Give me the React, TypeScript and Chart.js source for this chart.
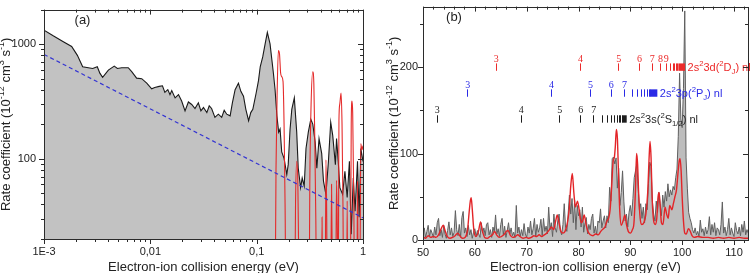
import React, { useEffect, useRef } from "react";
import { Chart, registerables } from "chart.js";

Chart.register(...registerables);

const SANS = '"Liberation Sans", Arial, Helvetica, sans-serif';
const SERIF = '"Liberation Serif", "Times New Roman", serif';

// ---------- Panel (a): low-energy rate coefficient, log-log ----------
// measured rate coefficient [energy eV, rate 1e-12 cm^3 s^-1]
const measuredA: [number, number][] = [
  [0.001, 1324], [0.00122, 1183], [0.00152, 1051], [0.00182, 953], [0.00206, 798],
  [0.00231, 635], [0.00261, 623], [0.00287, 614], [0.00317, 635], [0.00336, 556],
  [0.00356, 514], [0.00403, 594], [0.00458, 643], [0.0049, 614], [0.00538, 623],
  [0.0062, 623], [0.00668, 575], [0.00743, 505], [0.0083, 500], [0.00925, 457],
  [0.0103, 408], [0.011, 418], [0.0121, 428], [0.013, 433], [0.0137, 380],
  [0.0146, 401], [0.0153, 363], [0.0159, 394], [0.0171, 340], [0.0184, 363],
  [0.0197, 319], [0.0212, 262], [0.0228, 313], [0.0245, 298], [0.0263, 274],
  [0.0283, 308], [0.0299, 262], [0.0316, 280], [0.034, 253], [0.0358, 290],
  [0.0377, 275], [0.0405, 230], [0.0436, 245], [0.0469, 230], [0.0495, 265],
  [0.0523, 245], [0.0563, 237], [0.0591, 308], [0.0627, 401], [0.0674, 457],
  [0.071, 388], [0.0752, 352], [0.0791, 270], [0.084, 215], [0.088, 253],
  [0.092, 270], [0.0989, 375], [0.104, 480], [0.108, 635], [0.114, 773],
  [0.12, 1000], [0.126, 1265], [0.1336, 1004], [0.1436, 560], [0.149, 400],
  [0.155, 237], [0.161, 171], [0.166, 182], [0.172, 115], [0.181, 101],
  [0.192, 73], [0.198, 89], [0.206, 180], [0.214, 270], [0.226, 340],
  [0.238, 171], [0.246, 83], [0.259, 56], [0.268, 68], [0.28, 58],
  [0.291, 123], [0.306, 171], [0.323, 222], [0.337, 201], [0.355, 140],
  [0.368, 83], [0.386, 150], [0.409, 111], [0.425, 64], [0.448, 49],
  [0.473, 95], [0.497, 208], [0.519, 160], [0.55, 89], [0.564, 150],
  [0.585, 95], [0.606, 56], [0.643, 49], [0.676, 78], [0.71, 46],
  [0.745, 95], [0.775, 22], [0.81, 68], [0.842, 35], [0.888, 95],
  [0.92, 31], [0.954, 123], [1.0, 95],
];

// calculated resonances above 0.14 eV
const theoryA: [number, number][] = [
  [0.14, 1], [0.149, 5], [0.152, 80], [0.156, 400], [0.16, 880], [0.164, 820],
  [0.168, 560], [0.172, 521], [0.177, 472], [0.181, 200], [0.185, 40], [0.189, 5],
  [0.228, 5], [0.232, 40], [0.238, 95], [0.244, 60], [0.249, 12], [0.253, 3],
  [0.31, 3], [0.316, 60], [0.325, 300], [0.337, 575], [0.345, 450], [0.352, 150],
  [0.36, 30], [0.368, 3], [0.405, 3], [0.412, 31], [0.418, 5], [0.44, 3],
  [0.448, 98], [0.456, 30], [0.462, 3], [0.495, 3], [0.506, 60], [0.515, 10],
  [0.552, 5], [0.564, 65], [0.575, 20], [0.584, 5], [0.594, 215], [0.605, 300],
  [0.622, 375], [0.635, 200], [0.648, 40], [0.661, 3], [0.7, 3], [0.71, 43],
  [0.72, 3], [0.76, 5], [0.775, 200], [0.788, 319], [0.8, 250], [0.82, 40],
  [0.835, 3], [0.875, 5], [0.888, 64], [0.9, 10], [0.935, 10], [0.954, 136],
  [0.975, 120], [1.0, 130],
];

// radiative recombination estimate
const radiativeA: [number, number][] = [
  [0.001, 813], [1.0, 30.6],
];

const xTickLabelsA = ["1E-3", "0,01", "0,1", "1"]; // decades 1e-3 .. 1
const yTickLabelsA = ["100", "1000"]; // decades 1e2 .. 1e3

// ---------- Panel (b): rate coefficient 50 - 113 eV ----------
const measuredB_start = 50;
const measuredB_step = 0.25;
const measuredB: number[] = [
  6, 14, 3, 10, 17, 4, 12, 8, 3, 15, 6, 20, 25, 5, 12, 3,
  17, 7, 2, 11, 21, 6, 14, 4, 9, 34, 12, 5, 18, 3, 26, 33,
  8, 14, 4, 17, 6, 12, 2, 9, 13, 4, 11, 7, 3, 20, 8, 14,
  5, 18, 20, 6, 12, 3, 15, 9, 29, 7, 13, 4, 18, 25, 6, 16,
  3, 11, 20, 7, 14, 5, 9, 3, 40, 8, 15, 4, 12, 5, 19, 7,
  3, 15, 8, 22, 6, 13, 25, 4, 18, 9, 14, 24, 5, 25, 10, 16,
  7, 38, 12, 20, 4, 30, 14, 9, 22, 30, 11, 6, 18, 42, 15, 10,
  30, 52, 30, 48, 20, 46, 12, 40, 28, 35, 15, 38, 9, 20, 26, 7,
  18, 12, 25, 30, 8, 16, 6, 22, 20, 36, 14, 22, 28, 14, 28, 20,
  61, 45, 94, 96, 88, 95, 60, 83, 40, 55, 80, 45, 22, 30, 15, 32,
  40, 28, 48, 72, 80, 88, 62, 35, 42, 25, 38, 20, 42, 35, 65, 90,
  85, 45, 30, 22, 45, 32, 55, 42, 28, 52, 38, 56, 45, 65, 50, 58,
  52, 62, 58, 72, 82, 120, 193, 140, 130, 175, 265, 95, 60, 32, 25, 20,
  12, 8, 14, 6, 10, 4, 23, 9, 13, 5, 15, 7, 12, 27, 6, 18,
  9, 20, 5, 14, 12, 6, 18, 44, 8, 15, 5, 12, 25, 6, 14, 8,
  4, 20, 11, 7, 15, 5, 18, 9, 22, 6, 12, 8,
];

const theoryB: [number, number][] = [
  [50, 4], [50.5, 2], [51, 5], [51.5, 3], [52, 4], [52.5, 3], [53, 6], [53.5, 13],
  [53.9, 17], [54.3, 10], [54.7, 4], [55.2, 2], [55.7, 3], [56.2, 5], [56.7, 8],
  [57.1, 5], [57.6, 2], [58.1, 3], [58.6, 12], [58.9, 32], [59.15, 46], [59.3, 49],
  [59.5, 36], [59.8, 12], [60.2, 4], [60.7, 10], [61.1, 21], [61.4, 12], [61.9, 3],
  [62.4, 2], [62.9, 4], [63.4, 6], [63.8, 10], [64.2, 6], [64.7, 3], [65.1, 4],
  [65.6, 6], [66.1, 10], [66.4, 11], [66.8, 6], [67.3, 3], [67.8, 4], [68.3, 6],
  [68.7, 4], [69.3, 2], [69.9, 3], [70.4, 2], [70.9, 3], [71.4, 5], [71.9, 4],
  [72.4, 6], [72.9, 4], [73.4, 6], [73.9, 8], [74.4, 12], [74.8, 15], [75.2, 12],
  [75.6, 22], [75.9, 29], [76.2, 21], [76.6, 10], [77, 8], [77.4, 10], [77.8, 18],
  [78.2, 35], [78.5, 62], [78.8, 77], [79.1, 55], [79.4, 38], [79.8, 45], [80.1, 36],
  [80.5, 20], [80.8, 22], [81.1, 29], [81.4, 20], [81.8, 10], [82.3, 6], [82.8, 5],
  [83.3, 7], [83.8, 6], [84.3, 10], [84.6, 12], [85.1, 15], [85.5, 22], [85.8, 25],
  [86.1, 35], [86.4, 62], [86.7, 92], [86.9, 95], [87.1, 108], [87.3, 128],
  [87.5, 118], [87.7, 80], [87.95, 35], [88.25, 17], [88.6, 22], [88.95, 29],
  [89.25, 18], [89.6, 10], [90, 8], [90.4, 12], [90.7, 20], [91, 60], [91.2, 100],
  [91.4, 88], [91.6, 55], [91.9, 25], [92.2, 18], [92.6, 20], [93, 30], [93.35, 55],
  [93.6, 92], [93.8, 114], [94, 95], [94.2, 50], [94.5, 22], [94.8, 18], [95.1, 25],
  [95.35, 50], [95.55, 55], [95.75, 40], [96, 20], [96.3, 18], [96.7, 38], [97, 30],
  [97.3, 25], [97.6, 40], [98, 35], [98.3, 42], [98.6, 50], [98.9, 58], [99.2, 78],
  [99.45, 92], [99.6, 94], [99.8, 80], [100, 50], [100.25, 22], [100.5, 8],
  [100.8, 7], [101.2, 13], [101.5, 11], [101.9, 5], [102.3, 3], [103, 4], [104, 3],
  [105, 3], [106, 2], [107, 3], [108, 2], [109, 3], [110, 2], [111, 3], [112, 2],
  [112.8, 2],
];

const xTickLabelsB = [50, 60, 70, 80, 90, 100, 110];
const yTickLabelsB = [0, 100, 200];

// Rydberg resonance positions (eV) for the three core excitations
const levels3s = [52.64, 68.85, 76.3, 80.35, 82.86, 84.48, 85.44, 86.21, 86.85, 87.37, 87.76, 88.07, 88.4];
const labels3s = ["3", "4", "5", "6", "7"];
const limit3s = [88.53, 89.3];
const levels3p = [58.55, 74.7, 82.22, 86.21, 88.78, 90.27, 91.23, 92.0, 92.7, 93.16, 93.55, 93.8];
const labels3p = ["3", "4", "5", "6", "7"];
const limit3p = [93.93, 95.21];
const levels3d = [64.03, 80.29, 87.68, 91.67, 94.13, 95.73, 96.83, 97.66, 98.18, 98.49, 98.81, 99.06];
const labels3d = ["3", "4", "5", "6", "7", "8", "9"];
const limit3d = [99.26, 100.55];

type Seg = [string, number]; // text, 0 normal / 1 superscript / -1 subscript

const rateTitle: Seg[] = [
  ["Rate coefficient (10", 0], ["-12", 1], [" cm", 0], ["3", 1], [" s", 0], ["-1", 1], [")", 0],
];
const energyTitle = "Electron-ion collision energy (eV)";

const seriesB = [
  {
    rate: 140, color: "#1e1e1e", levels: levels3s, labels: labels3s, limit: limit3s,
    text: [["2s", 0], ["2", 1], ["3s(", 0], ["2", 1], ["S", 0], ["1/2", -1], [") nl", 0]] as Seg[],
  },
  {
    rate: 170, color: "#2a2ae6", levels: levels3p, labels: labels3p, limit: limit3p,
    text: [["2s", 0], ["2", 1], ["3p(", 0], ["2", 1], ["P", 0], ["J", -1], [") nl", 0]] as Seg[],
  },
  {
    rate: 200, color: "#ec2a2a", levels: levels3d, labels: labels3d, limit: limit3d,
    text: [["2s", 0], ["2", 1], ["3d(", 0], ["2", 1], ["D", 0], ["J", -1], [") nl", 0]] as Seg[],
  },
];

function richWidth(ctx: CanvasRenderingContext2D, segs: Seg[], size: number) {
  let w = 0;
  for (const [t, m] of segs) {
    ctx.font = `${m ? size * 0.7 : size}px ${SANS}`;
    w += ctx.measureText(t).width;
  }
  return w;
}

function drawRich(ctx: CanvasRenderingContext2D, segs: Seg[], x: number, y: number, size: number) {
  ctx.textAlign = "left";
  ctx.textBaseline = "alphabetic";
  for (const [t, m] of segs) {
    const s = m ? size * 0.7 : size;
    ctx.font = `${s}px ${SANS}`;
    const dy = m > 0 ? -size * 0.42 : m < 0 ? size * 0.25 : 0;
    ctx.fillText(t, x, y + dy);
    x += ctx.measureText(t).width;
  }
  return x;
}

function drawVerticalTitle(ctx: CanvasRenderingContext2D, segs: Seg[], baseX: number, centerY: number, size: number) {
  const w = richWidth(ctx, segs, size);
  ctx.save();
  ctx.translate(baseX, centerY);
  ctx.rotate(-Math.PI / 2);
  ctx.fillStyle = "#222";
  drawRich(ctx, segs, -w / 2, 0, size);
  ctx.restore();
}

function logTickValues(min: number, max: number) {
  const major: number[] = [];
  const minor: number[] = [];
  for (let d = Math.floor(Math.log10(min)); d <= Math.ceil(Math.log10(max)); d++) {
    for (let m = 1; m <= 9; m++) {
      const v = m * Math.pow(10, d);
      if (v < min * 0.9999 || v > max * 1.0001) continue;
      (m === 1 ? major : minor).push(v);
    }
  }
  return { major, minor };
}

function linTickValues(min: number, max: number, minorStep: number, majorStep: number) {
  const major: number[] = [];
  const minor: number[] = [];
  for (let v = Math.ceil(min / minorStep) * minorStep; v <= max + 1e-9; v += minorStep) {
    const r = Math.round(v * 1000) / 1000;
    (Math.abs(r / majorStep - Math.round(r / majorStep)) < 1e-6 ? major : minor).push(r);
  }
  return { major, minor };
}

type TickSet = { major: number[]; minor: number[] };

function makeFrame(xt: TickSet, yt: TickSet, extra: (chart: Chart) => void) {
  return {
    id: "frame",
    afterDraw(chart: Chart) {
      const { ctx, chartArea: a } = chart;
      const xs = chart.scales.x;
      const ys = chart.scales.y;
      ctx.save();
      extra(chart);
      ctx.strokeStyle = "#2b2b2b";
      ctx.lineWidth = 1;
      ctx.beginPath();
      const xTick = (list: number[], len: number) => {
        for (const v of list) {
          const p = Math.round(xs.getPixelForValue(v)) + 0.5;
          ctx.moveTo(p, a.bottom);
          ctx.lineTo(p, a.bottom + len);
          ctx.moveTo(p, a.top);
          ctx.lineTo(p, a.top + len);
        }
      };
      const yTick = (list: number[], len: number) => {
        for (const v of list) {
          const p = Math.round(ys.getPixelForValue(v)) + 0.5;
          ctx.moveTo(a.left, p);
          ctx.lineTo(a.left - len, p);
          ctx.moveTo(a.right, p);
          ctx.lineTo(a.right - len, p);
        }
      };
      xTick(xt.major, 5);
      xTick(xt.minor, 3);
      yTick(yt.major, 5);
      yTick(yt.minor, 3);
      ctx.stroke();
      ctx.strokeRect(Math.round(a.left) + 0.5, Math.round(a.top) + 0.5, Math.round(a.right - a.left), Math.round(a.bottom - a.top));
      ctx.restore();
    },
  };
}

const tickFont = { family: SANS, size: 11 };
const pts = (list: [number, number][]) => list.map(([x, y]) => ({ x, y }));

function configA(): any {
  const xMin = 0.001, xMax = 1, yMin = 20, yMax = 2000;
  const frame = makeFrame(logTickValues(xMin, xMax), logTickValues(yMin, yMax), (chart) => {
    const { ctx, chartArea: a } = chart;
    drawVerticalTitle(ctx, rateTitle, 9.5, (a.top + a.bottom) / 2, 13);
    ctx.fillStyle = "#222";
    ctx.font = `13px ${SANS}`;
    ctx.textAlign = "center";
    ctx.textBaseline = "alphabetic";
    ctx.fillText(energyTitle, (a.left + a.right) / 2, 271);
    ctx.fillText("(a)", 82.5, 24);
  });
  return {
    type: "line",
    data: {
      datasets: [
        {
          data: pts(radiativeA), borderColor: "#3434d2", borderWidth: 1.2, borderDash: [4, 3],
          pointRadius: 0, fill: false,
        },
        {
          data: pts(theoryA), borderColor: "#e42a2a", borderWidth: 1.1, pointRadius: 0,
          cubicInterpolationMode: "monotone", fill: false,
        },
        {
          data: pts(measuredA), borderColor: "#1a1a1a", borderWidth: 1.1, pointRadius: 0,
          backgroundColor: "#c2c2c2", fill: "start", tension: 0,
        },
      ],
    },
    options: {
      animation: false,
      responsive: false,
      maintainAspectRatio: false,
      events: [],
      layout: { padding: { left: 0, top: 5, right: 9, bottom: 0 } },
      plugins: { legend: { display: false }, tooltip: { enabled: false } },
      scales: {
        x: {
          type: "logarithmic", min: xMin, max: xMax,
          grid: { display: false, drawTicks: true, tickLength: 5 },
          border: { display: false },
          ticks: {
            autoSkip: false, maxRotation: 0, padding: 1, color: "#222", font: tickFont,
            major: { enabled: false },
            callback: (v: any) => {
              const e = Math.log10(Number(v));
              const r = Math.round(e);
              return Math.abs(e - r) < 1e-6 ? xTickLabelsA[r + 3] ?? "" : "";
            },
          },
          afterFit: (s: any) => { s.height = 34; },
        },
        y: {
          type: "logarithmic", min: yMin, max: yMax,
          grid: { display: false, drawTicks: true, tickLength: 5 },
          border: { display: false },
          ticks: {
            autoSkip: false, padding: 3, color: "#222", font: tickFont,
            major: { enabled: false },
            callback: (v: any) => {
              const e = Math.log10(Number(v));
              const r = Math.round(e);
              return Math.abs(e - r) < 1e-6 ? yTickLabelsA[r - 2] ?? "" : "";
            },
          },
          afterFit: (s: any) => { s.width = 44; },
        },
      },
    },
    plugins: [frame],
  };
}

function configB(): any {
  const xMin = 50, xMax = 112.7, yMin = 0, yMax = 270;
  const frame = makeFrame(linTickValues(xMin, xMax, 2, 10), linTickValues(yMin, yMax, 50, 100), (chart) => {
    const { ctx, chartArea: a } = chart;
    const xs = chart.scales.x;
    const ys = chart.scales.y;
    // Rydberg series markers
    for (const s of seriesB) {
      const yc = ys.getPixelForValue(s.rate);
      ctx.strokeStyle = s.color;
      ctx.fillStyle = s.color;
      ctx.lineWidth = 1;
      ctx.beginPath();
      for (const e of s.levels) {
        const px = Math.round(xs.getPixelForValue(e)) + 0.5;
        ctx.moveTo(px, yc - 3.7);
        ctx.lineTo(px, yc + 3.7);
      }
      ctx.stroke();
      ctx.font = `10px ${SERIF}`;
      ctx.textAlign = "center";
      ctx.textBaseline = "alphabetic";
      s.labels.forEach((n, i) => ctx.fillText(n, xs.getPixelForValue(s.levels[i]) + 0.5, yc - 5.5));
      const x0 = xs.getPixelForValue(s.limit[0]);
      const x1 = xs.getPixelForValue(s.limit[1]);
      ctx.fillRect(x0, yc - 3.7, x1 - x0, 7.4);
      drawRich(ctx, s.text, x1 + 2.5, yc + 4, 11);
    }
    drawVerticalTitle(ctx, rateTitle, 25.5, (a.top + a.bottom) / 2, 13);
    ctx.fillStyle = "#222";
    ctx.font = `13px ${SANS}`;
    ctx.textAlign = "center";
    ctx.textBaseline = "alphabetic";
    ctx.fillText(energyTitle, (a.left + a.right) / 2, 271);
    ctx.fillText("(b)", 82, 21);
  });
  return {
    type: "line",
    data: {
      datasets: [
        {
          data: pts(theoryB), borderColor: "#e32428", borderWidth: 1.4, pointRadius: 0,
          cubicInterpolationMode: "monotone", fill: false,
        },
        {
          data: measuredB.map((y, i) => ({ x: measuredB_start + i * measuredB_step, y })),
          borderColor: "#606060", borderWidth: 1, pointRadius: 0,
          backgroundColor: "#bdbdbd", fill: "start", tension: 0,
        },
      ],
    },
    options: {
      animation: false,
      responsive: false,
      maintainAspectRatio: false,
      events: [],
      layout: { padding: { left: 0, top: 5, right: 4, bottom: 0 } },
      plugins: { legend: { display: false }, tooltip: { enabled: false } },
      scales: {
        x: {
          type: "linear", min: xMin, max: xMax,
          grid: { display: false, drawTicks: true, tickLength: 5 },
          border: { display: false },
          ticks: {
            stepSize: 2, includeBounds: false, autoSkip: false, maxRotation: 0, padding: 1,
            color: "#222", font: tickFont,
            callback: (v: any) => (xTickLabelsB.includes(Math.round(Number(v) * 1000) / 1000) ? String(v) : ""),
          },
          afterFit: (s: any) => { s.height = 33; },
        },
        y: {
          type: "linear", min: yMin, max: yMax,
          grid: { display: false, drawTicks: true, tickLength: 5 },
          border: { display: false },
          ticks: {
            stepSize: 50, includeBounds: false, autoSkip: false, padding: 0,
            color: "#222", font: tickFont,
            callback: (v: any) => (yTickLabelsB.includes(Number(v)) ? String(v) : ""),
          },
          afterFit: (s: any) => { s.width = 51; },
        },
      },
    },
    plugins: [frame],
  };
}

export default function App() {
  const refA = useRef<HTMLCanvasElement>(null);
  const refB = useRef<HTMLCanvasElement>(null);

  useEffect(() => {
    const a = new Chart(refA.current as HTMLCanvasElement, configA());
    const b = new Chart(refB.current as HTMLCanvasElement, configB());
    return () => {
      a.destroy();
      b.destroy();
    };
  }, []);

  return (
    <div style={{ position: "fixed", left: 0, top: 0, width: 752, height: 273, background: "#fff" }}>
      <canvas ref={refA} width={372} height={273} style={{ position: "absolute", left: 0, top: 0, width: 372, height: 273 }} />
      <canvas ref={refB} width={380} height={273} style={{ position: "absolute", left: 372, top: 0, width: 380, height: 273 }} />
    </div>
  );
}
